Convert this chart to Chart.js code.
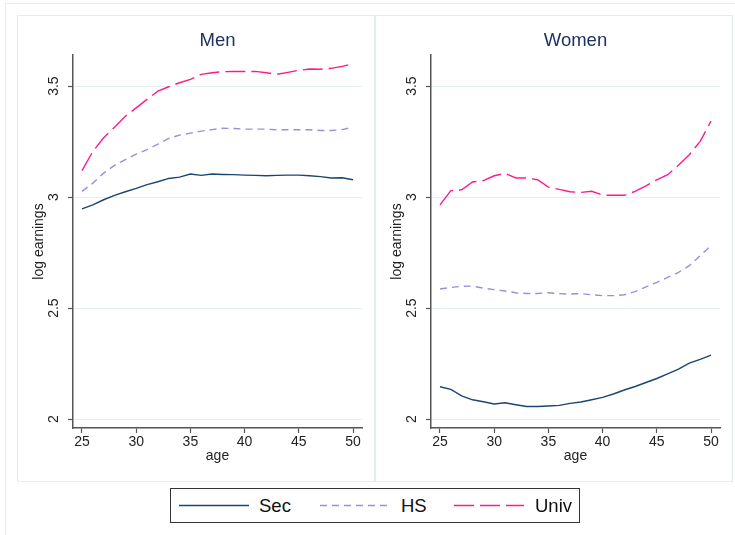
<!DOCTYPE html>
<html>
<head>
<meta charset="utf-8">
<script src="https://cdn.jsdelivr.net/npm/chart.js@4"></script>
<style>
  body { margin: 0; background: #fff; font-family: "Liberation Sans", Arial, sans-serif; }
  #page { position: relative; width: 735px; height: 535px; overflow: hidden; background: #fff; }
  .outer { position: absolute; left: 5px; top: 3px; width: 760px; height: 560px; border: 1.5px solid #e6eeee; }
  .panel { position: absolute; top: 15px; width: 358px; height: 467px; border: 1.5px solid #e3ebeb; box-sizing: border-box; }
  .panel canvas { position: absolute; left: 0; top: 0; }
  #legend { position: absolute; left: 170px; top: 488px; width: 410px; height: 35px; box-sizing: border-box;
            border: 1px solid #333; font-size: 18.5px; color: #111; }
  #legend svg { position: absolute; top: 0; }
  #legend span { position: absolute; top: 6px; }
</style>
</head>
<body>
<div id="page">
  <div class="outer"></div>
  <div class="panel" style="left:17px"><canvas id="men" width="358" height="467"></canvas></div>
  <div class="panel" style="left:375px"><canvas id="women" width="358" height="467"></canvas></div>
  <div id="legend"></div>
</div>
<script>
// ages on the x axis
const ages = [25,26,27,28,29,30,31,32,33,34,35,36,37,38,39,40,41,42,43,44,45,46,47,48,49,50];

// Men, log earnings by education
const menSec = [2.947,2.965,2.988,3.008,3.024,3.039,3.056,3.069,3.084,3.090,3.104,3.098,3.104,3.102,3.101,3.099,3.098,3.096,3.098,3.099,3.099,3.096,3.092,3.086,3.087,3.078];
const menHS = [3.026,3.063,3.108,3.143,3.169,3.194,3.214,3.239,3.264,3.279,3.288,3.297,3.304,3.310,3.309,3.306,3.306,3.306,3.303,3.303,3.303,3.303,3.300,3.300,3.304,3.315];
const menUniv = [3.119,3.206,3.267,3.315,3.364,3.402,3.440,3.477,3.497,3.515,3.530,3.553,3.560,3.565,3.566,3.566,3.566,3.560,3.553,3.562,3.571,3.577,3.576,3.580,3.589,3.601];

// Women, log earnings by education
const womenSec = [2.146,2.134,2.105,2.087,2.078,2.068,2.074,2.065,2.057,2.057,2.059,2.062,2.071,2.077,2.087,2.098,2.113,2.131,2.147,2.165,2.183,2.204,2.225,2.252,2.269,2.288];
const womenHS = [2.586,2.593,2.598,2.599,2.590,2.583,2.577,2.569,2.566,2.566,2.569,2.565,2.563,2.565,2.560,2.556,2.556,2.560,2.574,2.596,2.616,2.638,2.661,2.691,2.736,2.781];
const womenUniv = [2.965,3.029,3.033,3.068,3.074,3.096,3.107,3.086,3.086,3.078,3.045,3.035,3.024,3.021,3.026,3.009,3.008,3.008,3.026,3.051,3.078,3.101,3.143,3.191,3.251,3.342];

const yTicks = [2, 2.5, 3, 3.5];
const xTicks = [25, 30, 35, 40, 45, 50];
const seriesNames = ['Sec', 'HS', 'Univ'];

const colors = { Sec: '#1a476f', HS: '#9a8fdc', Univ: '#ff1a8c' };
const dashes = { Sec: [], HS: [7, 5], Univ: [20, 6] };
const fontFam = '"Liberation Sans", Arial, sans-serif';

// panel title + rotated y tick labels, drawn against the chart's own scales
const panelDecor = {
    id: 'panelDecor',
    afterDraw(chart) {
        const ctx = chart.ctx;
        const area = chart.chartArea;
        const y = chart.scales.y;
        ctx.save();
        ctx.fillStyle = '#1e3160';
        ctx.font = '18.5px ' + fontFam;
        ctx.textAlign = 'center';
        ctx.textBaseline = 'middle';
        ctx.fillText(chart.options.plugins.panelDecor.title, (area.left + area.right) / 2, 25);
        ctx.fillStyle = '#222';
        ctx.font = '14px ' + fontFam;
        yTicks.forEach(v => {
            ctx.save();
            ctx.translate(area.left - 19, y.getPixelForValue(v));
            ctx.rotate(-Math.PI / 2);
            ctx.fillText(String(v), 0, 0);
            ctx.restore();
        });
        ctx.restore();
    }
};

function makePanel(id, title, sec, hs, univ) {
    const vals = { Sec: sec, HS: hs, Univ: univ };
    return new Chart(document.getElementById(id), {
        type: 'line',
        data: {
            datasets: seriesNames.map(n => ({
                label: n,
                data: ages.map((a, i) => ({ x: a, y: vals[n][i] })),
                borderColor: colors[n],
                borderWidth: 1.4,
                borderDash: dashes[n],
                pointRadius: 0,
                fill: false,
                tension: 0
            }))
        },
        options: {
            responsive: false,
            animation: false,
            devicePixelRatio: 1,
            layout: { padding: { top: 39, right: 14, left: 0, bottom: 0 } },
            plugins: {
                legend: { display: false },
                tooltip: { enabled: false },
                panelDecor: { title: title }
            },
            scales: {
                x: {
                    type: 'linear',
                    min: 24.17,
                    max: 50.83,
                    afterBuildTicks: s => { s.ticks = xTicks.map(v => ({ value: v })); },
                    afterFit: s => { s.height = 55; },
                    grid: { drawOnChartArea: false, tickColor: '#555', tickLength: 5, tickWidth: 1.2 },
                    border: { color: '#555', width: 1.5 },
                    ticks: { color: '#222', font: { size: 14, family: fontFam }, padding: 1, maxRotation: 0 },
                    title: { display: true, text: 'age', color: '#222', font: { size: 14, family: fontFam },
                             padding: { top: 0, bottom: 18 } }
                },
                y: {
                    type: 'linear',
                    min: 1.96,
                    max: 3.64,
                    afterBuildTicks: s => { s.ticks = yTicks.map(v => ({ value: v })); },
                    afterFit: s => { s.width = 55; },
                    grid: { color: '#e4efef', lineWidth: 1, tickColor: '#555', tickLength: 5, tickWidth: 1.2 },
                    border: { color: '#555', width: 1.5 },
                    ticks: { display: false },
                    title: { display: true, text: 'log earnings', color: '#222', font: { size: 14, family: fontFam },
                             padding: { top: 13, bottom: 0 } }
                }
            }
        },
        plugins: [panelDecor]
    });
}

makePanel('men', 'Men', menSec, menHS, menUniv);
makePanel('women', 'Women', womenSec, womenHS, womenUniv);

// legend
const legend = document.getElementById('legend');
const legendPos = { Sec: [7, 88], HS: [148, 230], Univ: [282, 364] };
seriesNames.forEach(n => {
    const [x0, tx] = legendPos[n];
    const svg = document.createElementNS('http://www.w3.org/2000/svg', 'svg');
    svg.setAttribute('width', 72);
    svg.setAttribute('height', 33);
    svg.style.left = x0 + 'px';
    const line = document.createElementNS('http://www.w3.org/2000/svg', 'line');
    line.setAttribute('x1', 1); line.setAttribute('x2', 71);
    line.setAttribute('y1', 16.5); line.setAttribute('y2', 16.5);
    line.setAttribute('stroke', colors[n]);
    line.setAttribute('stroke-width', 1.4);
    if (dashes[n].length) line.setAttribute('stroke-dasharray', dashes[n].join(' '));
    svg.appendChild(line);
    legend.appendChild(svg);
    const t = document.createElement('span');
    t.textContent = n;
    t.style.left = tx + 'px';
    legend.appendChild(t);
});
</script>
</body>
</html>
